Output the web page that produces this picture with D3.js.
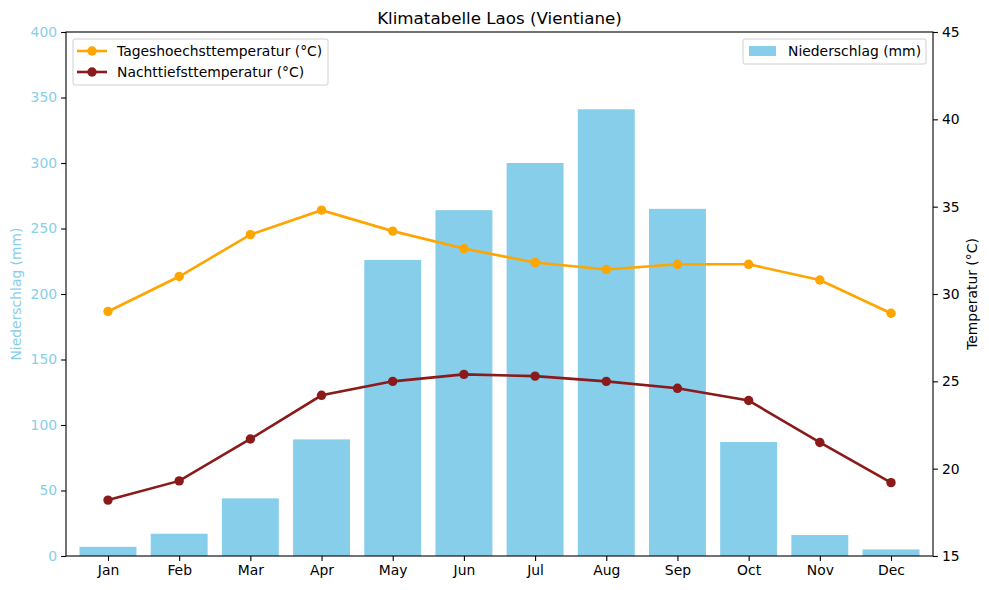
<!DOCTYPE html>
<html>
<head>
<meta charset="utf-8">
<script src="https://cdn.jsdelivr.net/npm/d3@7"></script>
<style>
  body { margin: 0; background: #fff; }
  text { font-family: "DejaVu Sans", sans-serif; }
</style>
</head>
<body>
<div id="chart"></div>
<script>
// chart data
const months = ["Jan", "Feb", "Mar", "Apr", "May", "Jun", "Jul", "Aug", "Sep", "Oct", "Nov", "Dec"];
const precipitation = [7, 17, 44, 89, 226, 264, 300, 341, 265, 87, 16, 5];
const tempHigh = [29.0, 31.0, 33.4, 34.8, 33.6, 32.6, 31.8, 31.4, 31.7, 31.7, 30.8, 28.9];
const tempLow = [18.2, 19.3, 21.7, 24.2, 25.0, 25.4, 25.3, 25.0, 24.6, 23.9, 21.5, 19.2];
const precipTicks = [0, 50, 100, 150, 200, 250, 300, 350, 400];
const tempTicks = [15, 20, 25, 30, 35, 40, 45];

const W = 989, H = 590;
const margin = { top: 32, right: 56, bottom: 34, left: 66 };
const width = W - margin.left - margin.right;
const height = H - margin.top - margin.bottom;

const svg = d3.select("#chart").append("svg")
  .attr("width", W).attr("height", H);

const g = svg.append("g")
  .attr("transform", `translate(${margin.left},${margin.top})`);

// x as a linear index scale (like matplotlib)
const x = d3.scaleLinear().domain([-0.59, 11.59]).range([0, width]);
const unit = x(1) - x(0);
const yL = d3.scaleLinear().domain([0, 400]).range([height, 0]);
const yR = d3.scaleLinear().domain([15, 45]).range([height, 0]);

const skyblue = "#87ceeb";
const orange = "#ffa500";
const darkred = "#8b1a1a";
const dotR = 4.7;

// bars
g.selectAll("rect.bar")
  .data(precipitation)
  .join("rect")
  .attr("class", "bar")
  .attr("x", (d, i) => x(i - 0.4))
  .attr("width", unit * 0.8)
  .attr("y", d => yL(d))
  .attr("height", d => height - yL(d))
  .attr("fill", skyblue);

// lines
const line = d3.line().x((d, i) => x(i));
[[tempHigh, orange], [tempLow, darkred]].forEach(([vals, col]) => {
  g.append("path")
    .datum(vals)
    .attr("fill", "none")
    .attr("stroke", col)
    .attr("stroke-width", 2.6)
    .attr("d", line.y(d => yR(d)));
  g.selectAll(null)
    .data(vals)
    .join("circle")
    .attr("cx", (d, i) => x(i))
    .attr("cy", d => yR(d))
    .attr("r", dotR)
    .attr("fill", col);
});

// axes
const xAxis = g.append("g")
  .attr("transform", `translate(0,${height})`)
  .call(d3.axisBottom(x).tickValues(d3.range(12)).tickFormat(i => months[i]).tickSize(4.9).tickPadding(4));
const leftAxis = g.append("g")
  .call(d3.axisLeft(yL).tickValues(precipTicks).tickSize(4.9).tickPadding(4));
const rightAxis = g.append("g")
  .attr("transform", `translate(${width},0)`)
  .call(d3.axisRight(yR).tickValues(tempTicks).tickSize(4.9).tickPadding(4));

[xAxis, leftAxis, rightAxis].forEach(a => {
  a.select(".domain").remove();
  a.selectAll("text").style("font-size", "13.9px").attr("fill", "#000");
  a.selectAll("line").attr("stroke", "#000").attr("stroke-width", 1.1);
});
leftAxis.selectAll("text").attr("fill", skyblue);

// frame
g.append("rect")
  .attr("width", width).attr("height", height)
  .attr("fill", "none").attr("stroke", "#000").attr("stroke-width", 1.1);

// titles
svg.append("text")
  .attr("x", margin.left + width / 2).attr("y", 24)
  .attr("text-anchor", "middle").style("font-size", "16.7px")
  .text("Klimatabelle Laos (Vientiane)");

svg.append("text")
  .attr("transform", `translate(21,${margin.top + height / 2}) rotate(-90)`)
  .attr("text-anchor", "middle").style("font-size", "13.9px")
  .attr("fill", skyblue)
  .text("Niederschlag (mm)");

svg.append("text")
  .attr("transform", `translate(977,${margin.top + height / 2}) rotate(-90)`)
  .attr("text-anchor", "middle").style("font-size", "13.9px")
  .text("Temperatur (°C)");

// legend: temperatures
const legL = g.append("g").attr("transform", "translate(7,7)");
legL.append("rect")
  .attr("width", 255).attr("height", 46).attr("rx", 2)
  .attr("fill", "#fff").attr("fill-opacity", 0.8)
  .attr("stroke", "#d0d0d0");
[["Tageshoechsttemperatur (°C)", orange], ["Nachttiefsttemperatur (°C)", darkred]].forEach(([lbl, col], i) => {
  const yy = 12 + i * 21;
  legL.append("line").attr("x1", 4).attr("x2", 34).attr("y1", yy).attr("y2", yy)
    .attr("stroke", col).attr("stroke-width", 2.6);
  legL.append("circle").attr("cx", 19).attr("cy", yy).attr("r", dotR).attr("fill", col);
  legL.append("text").attr("x", 44).attr("y", yy).attr("dy", "0.35em")
    .style("font-size", "13.9px").text(lbl);
});

// legend: precipitation
const legR = g.append("g").attr("transform", `translate(${width - 190},7)`);
legR.append("rect")
  .attr("width", 183).attr("height", 25).attr("rx", 2)
  .attr("fill", "#fff").attr("fill-opacity", 0.8)
  .attr("stroke", "#d0d0d0");
legR.append("rect").attr("x", 6).attr("y", 7).attr("width", 27).attr("height", 10).attr("fill", skyblue);
legR.append("text").attr("x", 45).attr("y", 12).attr("dy", "0.35em")
  .style("font-size", "13.9px").text("Niederschlag (mm)");
</script>
</body>
</html>
